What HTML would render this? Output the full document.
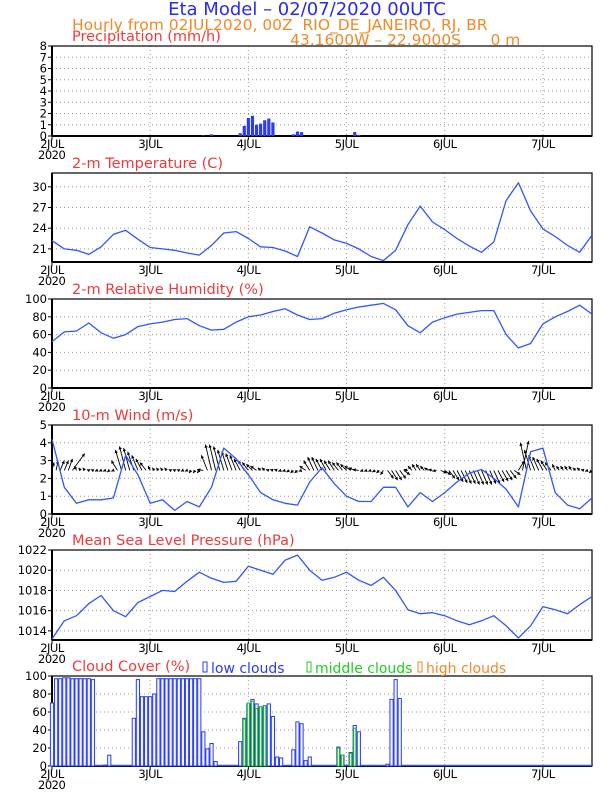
<!DOCTYPE html>
<html><head><meta charset="utf-8"><style>
body{margin:0;background:#fff;}
svg{display:block;font-family:"DejaVu Sans","Liberation Sans",sans-serif;}
</style></head><body>
<svg id="c" width="612" height="792" viewBox="0 0 612 792" xmlns="http://www.w3.org/2000/svg">
<text x="307" y="15" font-size="18" fill="#2a2af0" text-anchor="middle">Eta Model – 02/07/2020 00UTC</text>
<text x="72" y="30" font-size="15.5" fill="#f08a28" xml:space="preserve">Hourly from 02JUL2020, 00Z  RIO_DE_JANEIRO, RJ, BR</text>
<text x="290" y="45" font-size="15.5" fill="#f08a28" xml:space="preserve">43.1600W – 22.9000S      0 m</text>
<g id="panels"></g>
</svg>
<script>
const hours3 = [0,3,6,9,12,15,18,21,24,27,30,33,36,39,42,45,48,51,54,57,60,63,66,69,72,75,78,81,84,87,90,93,96,99,102,105,108,111,114,117,120,123,126,129,132];
const tempVals = [22.2,21.0,20.8,20.2,21.3,23.1,23.7,22.4,21.2,21.0,20.8,20.4,20.1,21.5,23.3,23.5,22.5,21.3,21.2,20.7,19.9,24.2,23.3,22.3,21.8,21.0,19.9,19.3,20.8,24.5,27.2,24.9,23.8,22.5,21.4,20.5,22.0,28.0,30.6,26.5,23.9,22.8,21.5,20.5,23.0];
const rhVals = [52,63,64,73,62,56,60,69,72,74,77,78,70,65,66,74,80,82,86,89,82,77,78,84,88,91,93,95,88,70,62,74,79,83,85,87,87,60,45,50,72,80,86,93,83];
const windSpeed = [4.2,1.5,0.6,0.8,0.8,0.9,3.3,2.2,0.6,0.8,0.2,0.7,0.4,1.5,3.7,3.1,2.2,1.2,0.8,0.6,0.5,1.8,2.6,1.7,1.0,0.7,0.7,1.5,1.5,0.4,1.2,0.7,1.2,1.8,2.3,2.5,2.0,1.4,0.4,3.5,3.7,1.2,0.5,0.3,0.9];
const windTip = [2.9,3.0,3.0,3.0,3.1,3.4,2.7,2.6,2.6,2.5,2.5,2.4,2.4,2.4,2.35,2.4,3.0,3.6,3.8,3.7,3.5,3.3,3.1,2.9,2.7,2.6,2.6,2.6,2.6,2.5,2.5,2.5,2.4,2.4,2.3,2.3,2.3,2.5,3.3,3.9,3.9,3.8,3.6,3.5,3.4,3.3,3.1,3.0,2.9,2.8,2.7,2.6,2.6,2.5,2.5,2.5,2.4,2.4,2.35,2.3,2.3,2.4,2.7,3.0,3.2,3.2,3.1,3.1,3.0,3.0,2.9,2.9,2.8,2.7,2.6,2.5,2.4,2.4,2.4,2.35,2.3,2.2,2.0,1.9,1.9,2.0,2.2,2.5,2.7,2.8,2.8,2.7,2.6,2.5,2.4,2.3,2.2,2.0,1.9,1.8,1.75,1.7,1.7,1.65,1.65,1.65,1.65,1.7,1.7,1.8,1.85,1.9,2.0,2.2,3.0,4.1,4.0,3.6,3.3,3.2,3.1,3.0,2.9,2.8,2.7,2.7,2.7,2.7,2.6,2.6,2.5,2.4,2.3];
const windDx = [0.5,0.5,1,1,1,3,-0.5,-0.5,-0.5,-0.5,-0.5,-0.5,-0.5,-0.5,-0.5,-0.5,-1.5,-1.5,-1.5,-1.5,-1.5,-1.5,-1.5,-1.5,-0.5,-0.5,-0.5,-0.5,-0.5,-0.5,-0.5,-0.5,-0.5,-0.5,-0.5,-0.5,-0.5,-1.5,-1.5,-1.5,-1.5,-1.5,-1.5,-1.5,-1.5,-1.5,-1.5,-1.5,-1.5,-1.5,-1.5,-0.7,-0.7,-0.7,-0.7,-0.7,-0.7,-0.7,-0.7,-0.7,-0.7,-0.7,-1.5,-1.5,-1.5,-1.5,-1.5,-1.5,-1.5,-1.5,-1.5,-1.5,-1.5,-1.5,-1.5,-1.5,-0.7,-0.7,-0.7,-0.7,-0.7,-0.7,1.5,1.5,1.5,1.5,1.5,-1,-1,-1,-1,-1,-1,-1,-1,1.5,1.5,1.5,1.5,1.5,1.5,1.5,1.5,1.5,1.5,1.5,1.5,1.5,1.5,1.5,1.5,1.5,1.5,1.5,1.5,1.5,-1.5,-1.5,-1.5,-1.5,-1.5,-1.5,-1.5,-0.7,-0.7,-0.7,-0.7,-0.7,-0.7,-0.7,-0.7,-0.7,-0.7,-0.7,-0.7];
const windBase = 2.45;
const presVals = [1013.2,1015.0,1015.5,1016.7,1017.5,1016.0,1015.4,1016.8,1017.4,1018.0,1017.9,1018.9,1019.8,1019.2,1018.8,1018.9,1020.4,1020.0,1019.6,1021.0,1021.5,1020.0,1019.0,1019.3,1019.8,1019.0,1018.5,1019.3,1018.0,1016.1,1015.7,1015.8,1015.5,1015.0,1014.6,1015.0,1015.5,1014.5,1013.3,1014.5,1016.4,1016.1,1015.7,1016.6,1017.4];
const precipHours = [37,39,46,47,48,49,50,51,52,53,54,59,60,61,70,74,75];
const precipVals = [0.05,0.15,0.25,0.9,1.6,1.8,1.0,1.1,1.4,1.55,1.2,0.15,0.4,0.35,0.03,0.35,0.1];
const lowHours = [0,1,2,3,4,5,6,7,8,9,10,13,14,20,21,22,23,24,25,26,27,28,29,30,31,32,33,34,35,36,37,38,39,40,46,47,48,49,50,51,52,53,54,55,56,59,60,61,62,63,70,71,73,74,75,82,83,84,85];
const lowVals = [70,97,97,98,98,97,97,97,97,97,96,1,12,53,96,77,77,77,80,97,97,97,97,97,97,97,97,97,97,97,38,19,25,5,27,53,69,74,69,65,67,69,55,10,9,18,49,47,6,10,21,12,15,45,38,2,74,96,75];
const midHours = [47,48,49,50,51,52,70,71,73,74];
const midVals = [52,70,72,64,66,67,20,12,14,42];
const dayLabels = ["2JUL","3JUL","4JUL","5JUL","6JUL","7JUL"];

const NS="http://www.w3.org/2000/svg";
const root=document.getElementById('panels');
const L=52,R=592,H=132;
function xs(h){return L+h/H*(R-L);}
function mk(tag,attrs,parent){const e=document.createElementNS(NS,tag);for(const k in attrs)e.setAttribute(k,attrs[k]);(parent||root).appendChild(e);return e;}
function panel(name,top,bot,min,max,ticks,label){
  const g=mk('g',{});
  
  
  const ys=v=>bot-(v-min)/(max-min)*(bot-top);
  ticks.forEach(t=>{
    const y=ys(t);
    if(t!==min){const gl=mk('line',{x1:L,x2:R,y1:y,y2:y,stroke:'#999','stroke-dasharray':'1,3','stroke-width':1},g);
      
      }
    mk('line',{x1:L-4,x2:L,y1:y,y2:y,stroke:'#000'},g);
    const tx=mk('text',{x:L-5,y:y+4,'font-size':11.5,'text-anchor':'end'},g);tx.textContent=t;
    
    
  });
  for(let d=1;d<=5;d++){const x=xs(d*24);
    const gl=mk('line',{x1:x,x2:x,y1:top,y2:bot,stroke:'#999','stroke-dasharray':'1,3'},g);
    
    }
  dayLabels.forEach((d,i)=>{const x=xs(i*24);
    mk('line',{x1:x,x2:x,y1:bot,y2:bot+4,stroke:'#000'},g);
    const t=mk('text',{x:x,y:bot+12,'font-size':11.5,'text-anchor':'middle','letter-spacing':'-0.5'},g);t.textContent=d;
    
    });
  const yr=mk('text',{x:L-14,y:bot+23,'font-size':11.5,'letter-spacing':'-0.5'},g);yr.textContent='2020';
  
  
  const fr=mk('rect',{x:L,y:top,width:R-L,height:bot-top,fill:'none',stroke:'#000','stroke-width':1.2},g);
  
  
  mk('line',{x1:L,x2:R,y1:bot,y2:bot,stroke:'#000','stroke-width':2},g);
  mk('line',{x1:L,x2:L,y1:top,y2:bot,stroke:'#000','stroke-width':2},g);
  if(label){const t=mk('text',{x:72,y:top-5,'font-size':14.5,fill:'#f03a3a'},g);t.textContent=label;
    
    }
  return {g,ys};
}
function line(p,vals,name){
  const d=hours3.map((h,i)=>(i?'L':'M')+xs(h).toFixed(1)+','+p.ys(vals[i]).toFixed(1)).join('');
  const e=mk('path',{d:d,fill:'none',stroke:'#3355ff','stroke-width':1.3,'stroke-linejoin':'round'},p.g);
  
  
}
const p1=panel('precipitation',46,136,0,8,[0,1,2,3,4,5,6,7,8],'Precipitation (mm/h)');
precipHours.forEach((h,i)=>{const y=p1.ys(precipVals[i]);
  const b=mk('rect',{x:xs(h)-1.6,y:y,width:3.2,height:136-y,fill:'#2a3cf5'},p1.g);
  
  });
const p2=panel('temperature',173,262,19.1,32,[21,24,27,30],'2-m Temperature (C)');
line(p2,tempVals,'temperature-line');
const p3=panel('humidity',299,388,0,100,[0,20,40,60,80,100],'2-m Relative Humidity (%)');
line(p3,rhVals,'humidity-line');
const p4=panel('wind',425,514,0,5,[0,1,2,3,4,5],'10-m Wind (m/s)');
windTip.forEach((tip,h)=>{
  const x1=xs(h),y1=p4.ys(windBase),x2=xs(h+windDx[h]),y2=p4.ys(tip);
  const a=mk('g',{},p4.g);
  
  
  mk('line',{x1:x1,y1:y1,x2:x2,y2:y2,stroke:'#000','stroke-width':0.9},a);
  const ang=Math.atan2(y2-y1,x2-x1),s=3.5;
  mk('path',{d:`M${x2},${y2}L${x2-s*Math.cos(ang-0.5)},${y2-s*Math.sin(ang-0.5)}L${x2-s*Math.cos(ang+0.5)},${y2-s*Math.sin(ang+0.5)}Z`,fill:'#000'},a);
});
line(p4,windSpeed,'wind-speed-line');
const p5=panel('pressure',550,640,1013.1,1022,[1014,1016,1018,1020,1022],'Mean Sea Level Pressure (hPa)');
line(p5,presVals,'pressure-line');
const p6=panel('cloud-cover',676,766,0,100,[0,20,40,60,80,100],'Cloud Cover (%)');
mk('line',{x1:L,x2:R,y1:765.5,y2:765.5,stroke:'#3355ff','stroke-width':1.5},p6.g);
lowHours.forEach((h,i)=>{const y=p6.ys(lowVals[i]);
  const b=mk('rect',{x:xs(h)-1.6,y:y,width:3.2,height:766-y,fill:'#f4f6ff',stroke:'#2a3cf5','stroke-width':1},p6.g);
  
  });
midHours.forEach((h,i)=>{const y=p6.ys(midVals[i]);
  const b=mk('rect',{x:xs(h)-1.1,y:y,width:2.2,height:766-y,fill:'#e8ffe8',stroke:'#22bb22','stroke-width':1},p6.g);
  
  });
[['low clouds','#2a3cf5',203],['middle clouds','#22cc22',307],['high clouds','#f08a28',418]].forEach(([t,c,x])=>{
  const lg=mk('g',{},p6.g);
  
  
  mk('rect',{x:x,y:662,width:4,height:10,fill:'none',stroke:c},lg);
  const tx=mk('text',{x:x+8,y:673,'font-size':14,fill:c},lg);tx.textContent=t;
});
</script>
</body></html>
